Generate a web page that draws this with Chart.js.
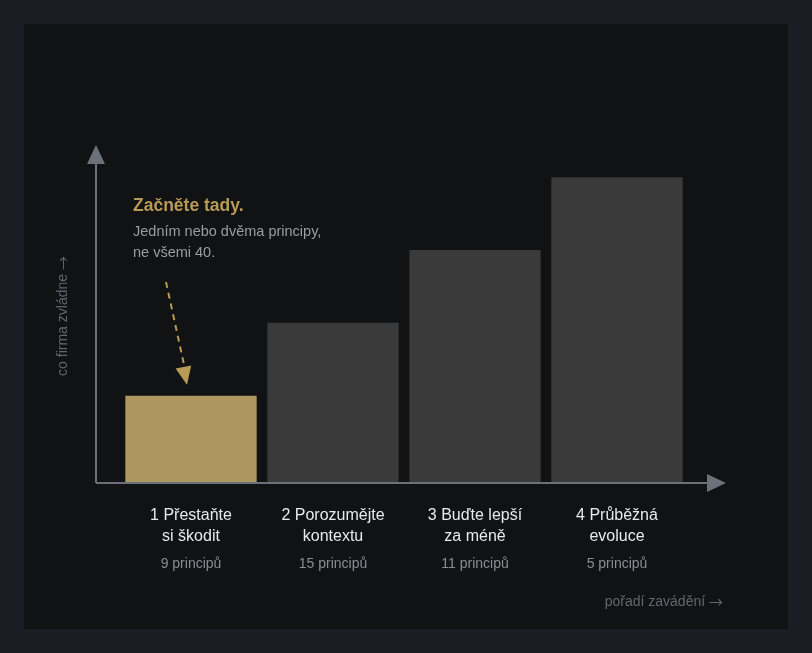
<!DOCTYPE html>
<html>
<head>
<meta charset="utf-8">
<script src="https://cdn.jsdelivr.net/npm/chart.js@4"></script>
<style>
  html, body { margin: 0; padding: 0; background: #1a1d24; }
  #panel { position: absolute; left: 24px; top: 24px; width: 764px; height: 605px; background: #111214; }
  #wrap { position: absolute; left: 0; top: 0; width: 812px; height: 653px; }
</style>
</head>
<body>
<div id="panel"></div>
<div id="wrap"><canvas id="chart"></canvas></div>
<script>
// phases in rollout order
const phaseLines = [
    ['1 Přestaňte', 'si škodit'],
    ['2 Porozumějte', 'kontextu'],
    ['3 Buďte lepší', 'za méně'],
    ['4 Průběžná', 'evoluce']
];
const principleCounts = ['9 principů', '15 principů', '11 principů', '5 principů'];
// relative "what the firm masters" level (staircase)
const masteryLevel = [1.2, 2.2, 3.2, 4.2];
const barColors = ['#ad9660', '#3a3a3a', '#3a3a3a', '#3a3a3a'];

const FONT = '"Liberation Sans", Arial, sans-serif';
const ARROW_FONT = '"Noto Sans CJK SC", "DejaVu Sans", sans-serif';
const AXIS = '#6b7079';
const GOLD = '#b89a55';

function arrowHead(ctx, x, y, dir, len, half) {
    ctx.beginPath();
    if (dir === 'up') {
        ctx.moveTo(x, y); ctx.lineTo(x - half, y + len); ctx.lineTo(x + half, y + len);
    } else {
        ctx.moveTo(x, y); ctx.lineTo(x - len, y - half); ctx.lineTo(x - len, y + half);
    }
    ctx.closePath();
    ctx.fill();
}

// text followed by a wide arrow glyph, centred on (x, y) or right-aligned at x
function textWithArrow(ctx, text, x, y, align) {
    ctx.textBaseline = 'middle';
    ctx.font = '14px ' + FONT;
    const w1 = ctx.measureText(text + ' ').width;
    ctx.font = '14px ' + ARROW_FONT;
    const w2 = ctx.measureText('→').width;
    const start = align === 'right' ? x - w1 - w2 : x - (w1 + w2) / 2;
    ctx.textAlign = 'left';
    ctx.font = '14px ' + FONT;
    ctx.fillText(text + ' ', start, y);
    ctx.font = '14px ' + ARROW_FONT;
    ctx.fillText('→', start + w1, y);
}

const decorations = {
    id: 'decorations',
    afterDatasetsDraw(chart) {
        const ctx = chart.ctx;
        const area = chart.chartArea;
        const xs = chart.scales.x;
        const ys = chart.scales.y;
        const base = ys.getPixelForValue(0);
        const axisX = area.left - 24;

        ctx.save();
        // axes with arrows
        ctx.strokeStyle = AXIS;
        ctx.fillStyle = AXIS;
        ctx.lineWidth = 2;
        ctx.beginPath();
        ctx.moveTo(axisX, base);
        ctx.lineTo(axisX, 160);
        ctx.moveTo(axisX, base);
        ctx.lineTo(710, base);
        ctx.stroke();
        arrowHead(ctx, axisX, 145, 'up', 19, 9);
        arrowHead(ctx, 726, base, 'right', 19, 9);

        // category labels
        ctx.textAlign = 'center';
        ctx.textBaseline = 'middle';
        phaseLines.forEach((lines, i) => {
            const cx = xs.getPixelForValue(i);
            ctx.fillStyle = '#e9e9ea';
            ctx.font = '16px ' + FONT;
            ctx.fillText(lines[0], cx, base + 33);
            ctx.fillText(lines[1], cx, base + 54);
            ctx.fillStyle = '#8a8d93';
            ctx.font = '14px ' + FONT;
            ctx.fillText(principleCounts[i], cx, base + 81);
        });

        // axis titles
        ctx.fillStyle = '#62666e';
        textWithArrow(ctx, 'pořadí zavádění', 723, 602, 'right');
        ctx.save();
        ctx.translate(63, 316);
        ctx.rotate(-Math.PI / 2);
        textWithArrow(ctx, 'co firma zvládne', 0, 0, 'center');
        ctx.restore();

        // annotation
        const tx = axisX + 37;
        ctx.textAlign = 'left';
        ctx.textBaseline = 'alphabetic';
        ctx.fillStyle = GOLD;
        ctx.font = 'bold 17.5px ' + FONT;
        ctx.fillText('Začněte tady.', tx, 211);
        ctx.fillStyle = '#9a9ca1';
        ctx.font = '14.5px ' + FONT;
        ctx.fillText('Jedním nebo dvěma principy,', tx, 236);
        ctx.fillText('ne všemi 40.', tx, 257);

        // dashed pointer toward first bar
        const tipY = ys.getPixelForValue(masteryLevel[0]) - 11;
        const tipX = xs.getPixelForValue(0) - 4;
        ctx.strokeStyle = GOLD;
        ctx.fillStyle = GOLD;
        ctx.lineWidth = 2;
        ctx.setLineDash([6, 5]);
        ctx.beginPath();
        ctx.moveTo(166, 282);
        ctx.lineTo(tipX - 3, tipY - 20);
        ctx.stroke();
        ctx.setLineDash([]);
        ctx.save();
        ctx.translate(tipX, tipY);
        ctx.rotate(Math.atan2(tipY - 282, tipX - 166) - Math.PI / 2);
        ctx.beginPath();
        ctx.moveTo(0, 0);
        ctx.lineTo(-8, -18);
        ctx.lineTo(8, -18);
        ctx.closePath();
        ctx.fill();
        ctx.restore();
        ctx.restore();
    }
};

new Chart(document.getElementById('chart'), {
    type: 'bar',
    data: {
        labels: phaseLines.map(l => l.join(' ')),
        datasets: [{
            data: masteryLevel,
            backgroundColor: barColors,
            borderWidth: 0,
            categoryPercentage: 0.925,
            barPercentage: 1
        }]
    },
    options: {
        responsive: true,
        maintainAspectRatio: false,
        animation: false,
        layout: { padding: { left: 120, right: 124, top: 119, bottom: 170 } },
        plugins: { legend: { display: false }, tooltip: { enabled: false } },
        scales: {
            x: { display: false },
            y: { display: false, min: 0, max: 5 }
        }
    },
    plugins: [decorations]
});
</script>
</body>
</html>
